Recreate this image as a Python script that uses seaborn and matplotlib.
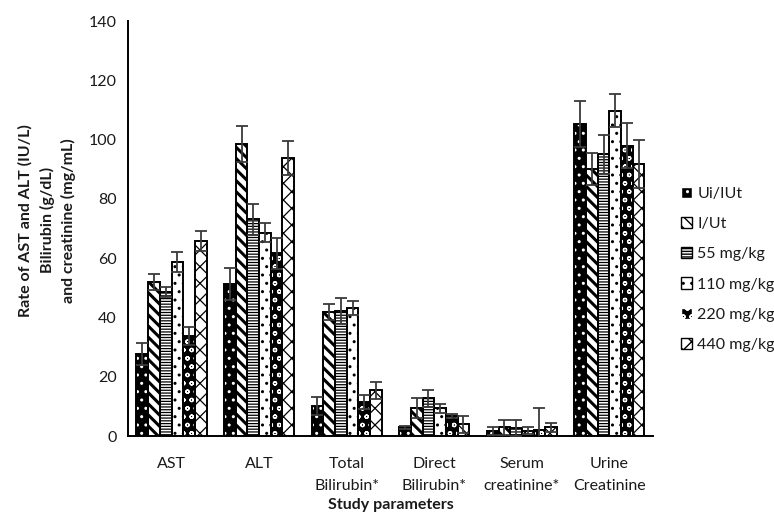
import numpy as np
import pandas as pd
import matplotlib
matplotlib.use("Agg")
import matplotlib.pyplot as plt
from matplotlib.patches import Patch, Rectangle
import seaborn as sns

# Study parameters (x categories) and treatment groups (hue)
parameters = ["AST", "ALT", "Total\nBilirubin*", "Direct\nBilirubin*",
              "Serum\ncreatinine*", "Urine\nCreatinine"]
groups = ["Ui/IUt", "I/Ut", "55 mg/kg", "110 mg/kg", "220 mg/kg", "440 mg/kg"]

# Mean values per group, one entry per study parameter
ui_iut = [27.7, 51.3, 10.1, 2.9, 1.8, 105.3]
i_ut = [52.0, 98.5, 41.8, 9.4, 2.9, 90.0]
dose_55 = [48.7, 73.1, 42.3, 12.7, 2.7, 95.0]
dose_110 = [58.8, 68.6, 43.1, 9.3, 1.8, 109.8]
dose_220 = [33.7, 61.6, 11.4, 6.7, 2.0, 97.9]
dose_440 = [65.8, 93.9, 15.4, 3.9, 2.9, 91.8]

# Standard errors per group
ui_iut_err = [3.7, 5.5, 3.0, 0.6, 1.3, 7.8]
i_ut_err = [2.7, 6.0, 2.8, 3.3, 2.6, 5.4]
dose_55_err = [1.7, 5.2, 4.4, 2.8, 2.8, 6.6]
dose_110_err = [3.4, 3.2, 2.4, 1.4, 1.1, 5.6]
dose_220_err = [3.0, 5.2, 2.4, 0.7, 7.5, 7.6]
dose_440_err = [3.5, 5.7, 3.0, 2.8, 1.6, 8.1]

means = [ui_iut, i_ut, dose_55, dose_110, dose_220, dose_440]
errors = [ui_iut_err, i_ut_err, dose_55_err, dose_110_err, dose_220_err, dose_440_err]

rows = []
for g, vals, errs in zip(groups, means, errors):
    for p, v, e in zip(parameters, vals, errs):
        rows.append({"parameter": p, "group": g, "value": v, "err": e})
df = pd.DataFrame(rows)

# Fill, hatch, hatch colour and hatch line width for each group
styles = {
    "Ui/IUt":    dict(face="black", hatch="..",     hcolor="white", hlw=1.0),
    "I/Ut":      dict(face="white", hatch="\\\\\\", hcolor="black", hlw=2.2),
    "55 mg/kg":  dict(face="white", hatch="------", hcolor="black", hlw=0.9),
    "110 mg/kg": dict(face="white", hatch="..",     hcolor="black", hlw=1.0),
    "220 mg/kg": dict(face="black", hatch="oo",     hcolor="white", hlw=0.9),
    "440 mg/kg": dict(face="white", hatch="xx",     hcolor="black", hlw=0.9),
}

sns.set_theme(style="white")
plt.rcParams["font.family"] = ["Lato", "DejaVu Sans"]
plt.rcParams["hatch.linewidth"] = 1.0

FS = 11.5

fig = plt.figure(figsize=(7.74, 5.13), dpi=100)
ax = fig.add_axes([0.165, 0.150, 0.679, 0.809])

sns.barplot(data=df, x="parameter", y="value", hue="group",
            order=parameters, hue_order=groups, errorbar=None,
            width=0.8, legend=False, ax=ax)

text_color = "#1a1a1a"
err_color = "#3a3a3a"


def style_patch(p, st):
    p.set_facecolor(st["face"])
    p.set_edgecolor(st["hcolor"])
    p.set_hatch(st["hatch"])
    if hasattr(p, "set_hatch_linewidth"):
        p.set_hatch_linewidth(st["hlw"])


for container, g in zip(ax.containers, groups):
    st = styles[g]
    sub = df[df["group"] == g].set_index("parameter").loc[parameters]
    xs, ys = [], []
    for bar in container:
        style_patch(bar, st)
        bar.set_linewidth(0)
        # black outline on top of the hatched fill
        ax.add_patch(Rectangle(bar.get_xy(), bar.get_width(), bar.get_height(),
                               fill=False, edgecolor="black", linewidth=1.4,
                               zorder=bar.get_zorder() + 0.1))
        xs.append(bar.get_x() + bar.get_width() / 2)
        ys.append(bar.get_height())
    ax.errorbar(xs, ys, yerr=sub["err"].values, fmt="none", ecolor=err_color,
                elinewidth=1.3, capsize=4, capthick=1.3, zorder=5)

ax.set_ylim(0, 140)
ax.set_xlim(-0.5, len(parameters) - 0.5)
ax.set_yticks(np.arange(0, 141, 20))
ax.set_xticks(range(len(parameters)))
ax.set_xticklabels(parameters, fontsize=FS, color=text_color, linespacing=1.72)
ax.set_xticks(np.arange(-0.5, len(parameters), 1.0), minor=True)
ax.tick_params(axis="x", which="major", length=0, pad=15)
ax.tick_params(axis="x", which="minor", length=4, width=1.2, color="black",
               direction="out")
ax.tick_params(axis="y", length=4, width=1.2, color="black", direction="out",
               labelsize=FS, labelcolor=text_color, pad=4)

for side in ["top", "right"]:
    ax.spines[side].set_visible(False)
for side in ["left", "bottom"]:
    ax.spines[side].set_color("black")
    ax.spines[side].set_linewidth(1.4)

ax.set_xlabel("Study parameters", fontsize=FS, fontweight="bold",
              color=text_color, labelpad=4)
ax.set_ylabel("Rate of AST and ALT (IU/L)\nBilirubin (g/dL)\nand creatinine (mg/mL)",
              fontsize=FS, fontweight="bold", color=text_color, linespacing=1.55)
ax.yaxis.set_label_coords(-0.098, 0.52)

handles = []
for g in groups:
    st = styles[g]
    h = Patch(linewidth=1.0, label=g)
    style_patch(h, st)
    handles.append(h)
leg = fig.legend(handles=handles, loc="upper left", bbox_to_anchor=(0.872, 0.648),
                 frameon=False, fontsize=FS, handlelength=0.7, handleheight=0.7,
                 handletextpad=0.3, labelspacing=1.0, borderaxespad=0)
for t in leg.get_texts():
    t.set_color(text_color)

fig.savefig("out.png", dpi=100, facecolor="white")
